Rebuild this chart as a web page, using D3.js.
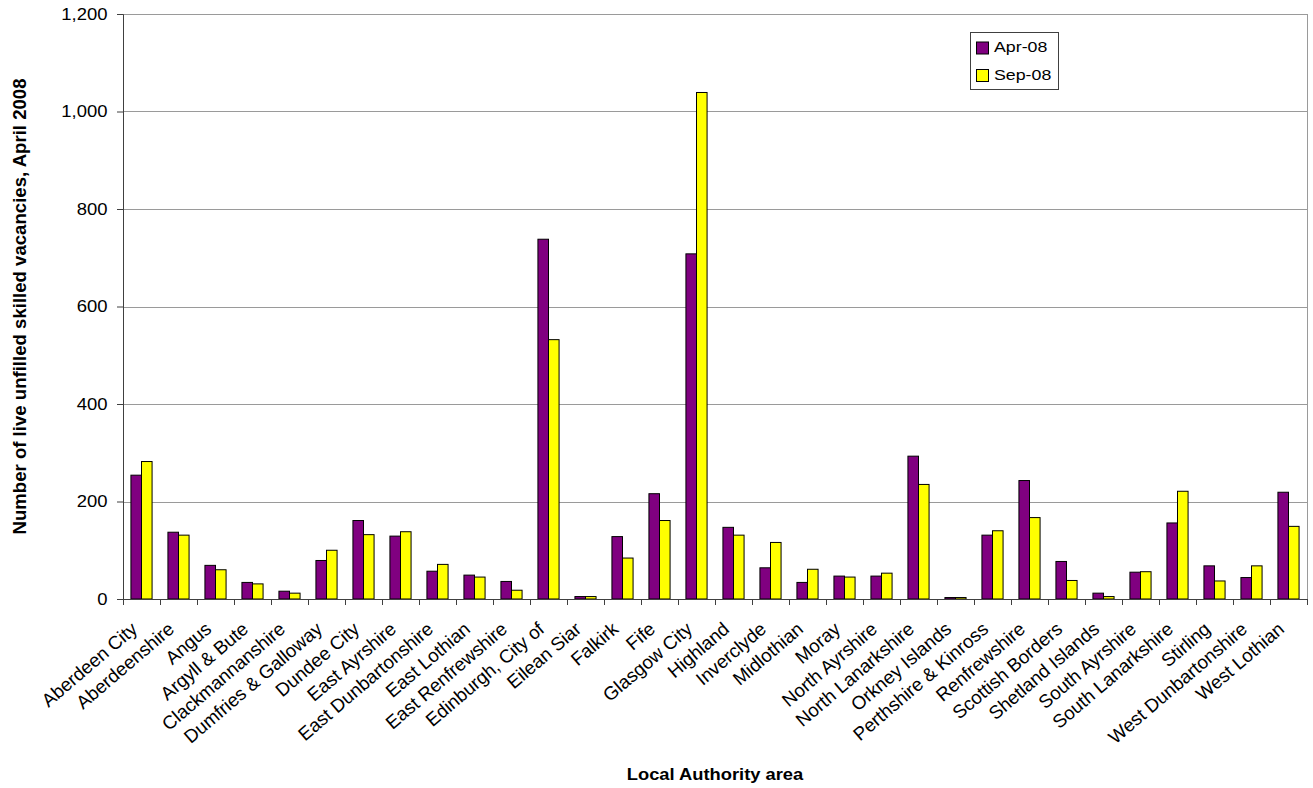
<!DOCTYPE html>
<html>
<head>
<meta charset="utf-8">
<script src="https://cdn.jsdelivr.net/npm/d3@7"></script>
<style>
  html, body { margin: 0; padding: 0; background: #fff; }
  svg { display: block; font-family: Arial, "Liberation Sans", sans-serif; }
</style>
</head>
<body>
<svg id="chart" width="1313" height="788"></svg>
<script>
const categories = [
  "Aberdeen City", "Aberdeenshire", "Angus", "Argyll & Bute", "Clackmannanshire",
  "Dumfries & Galloway", "Dundee City", "East Ayrshire", "East Dunbartonshire",
  "East Lothian", "East Renfrewshire", "Edinburgh, City of", "Eilean Siar", "Falkirk",
  "Fife", "Glasgow City", "Highland", "Inverclyde", "Midlothian", "Moray",
  "North Ayrshire", "North Lanarkshire", "Orkney Islands", "Perthshire & Kinross",
  "Renfrewshire", "Scottish Borders", "Shetland Islands", "South Ayrshire",
  "South Lanarkshire", "Stirling", "West Dunbartonshire", "West Lothian"
];
const seriesNames = ["Apr-08", "Sep-08"];
const apr08 = [254, 137, 69, 34, 16, 79, 161, 129, 57, 49, 36, 738, 5, 128, 216, 708,
               147, 64, 34, 47, 47, 293, 3, 131, 243, 77, 12, 55, 156, 68, 44, 219];
const sep08 = [282, 131, 60, 31, 12, 100, 132, 138, 71, 45, 18, 532, 5, 84, 161, 1039,
               131, 116, 61, 45, 53, 235, 3, 140, 167, 38, 5, 56, 221, 37, 68, 149];
const yTicks = [0, 200, 400, 600, 800, 1000, 1200];
const colors = ["#800080", "#FFFF00"];
const yTitle = "Number of live unfilled skilled vacancies, April 2008";
const xTitle = "Local Authority area";

const svg = d3.select("#chart");
const m = { left: 123, top: 14, right: 6, bottom: 189 };
const W = 1313, H = 788;
const pw = W - m.left - m.right, ph = H - m.top - m.bottom;
const g = svg.append("g").attr("transform", `translate(${m.left},${m.top})`);
const stretch = 1.17; // reference text is rendered slightly wide

const x = d3.scaleBand().domain(categories).range([0, pw]).paddingInner(0).paddingOuter(0);
const gapRatio = 1.5;
const barW = x.bandwidth() / (2 + gapRatio);
const x1 = d3.scaleBand().domain(seriesNames)
  .range([barW * gapRatio / 2, barW * gapRatio / 2 + 2 * barW]).padding(0);
const y = d3.scaleLinear().domain([0, 1200]).range([ph, 0]);

// gridlines
g.append("g").selectAll("line").data(yTicks.filter(d => d > 0)).join("line")
  .attr("x1", 0).attr("x2", pw)
  .attr("y1", d => Math.round(y(d)) + 0.5).attr("y2", d => Math.round(y(d)) + 0.5)
  .attr("stroke", "#9a9a9a").attr("stroke-width", 1);
// right border
g.append("line").attr("x1", pw + 0.5).attr("x2", pw + 0.5).attr("y1", 0).attr("y2", ph)
  .attr("stroke", "#9a9a9a");

// bars
const data = categories.map((c, i) => ({ c, vals: [apr08[i], sep08[i]] }));
const grp = g.append("g").selectAll("g").data(data).join("g")
  .attr("transform", d => `translate(${x(d.c)},0)`);
grp.selectAll("rect").data(d => d.vals.map((v, k) => ({ k, v }))).join("rect")
  .attr("x", d => x1(seriesNames[d.k]))
  .attr("width", x1.bandwidth())
  .attr("y", d => y(d.v))
  .attr("height", d => ph - y(d.v))
  .attr("fill", d => colors[d.k])
  .attr("stroke", "#000").attr("stroke-width", 1);

// y axis
const yAxis = g.append("g")
  .call(d3.axisLeft(y).tickValues(yTicks).tickFormat(d3.format(",")).tickSize(6).tickPadding(9));
yAxis.select(".domain").attr("stroke", "#404040");
yAxis.selectAll(".tick line").attr("stroke", "#404040");
yAxis.selectAll("text")
  .attr("x", 0)
  .attr("transform", `translate(-15.5,0) scale(${stretch},1)`)
  .attr("font-size", 15.8).attr("fill", "#000")
  .attr("font-family", "Arial, 'Liberation Sans', sans-serif");

// x axis (ticks at category boundaries)
const xAxisG = g.append("g").attr("transform", `translate(0,${ph})`);
xAxisG.append("line").attr("x1", 0).attr("x2", pw).attr("y1", 0.5).attr("y2", 0.5)
  .attr("stroke", "#404040");
const bounds = categories.map(c => x(c)).concat([pw]);
xAxisG.selectAll("line.tk").data(bounds).join("line").attr("class", "tk")
  .attr("x1", d => Math.round(d) + 0.5).attr("x2", d => Math.round(d) + 0.5)
  .attr("y1", 0).attr("y2", 6).attr("stroke", "#404040");
xAxisG.selectAll("text").data(categories).join("text")
  .attr("transform", d => `translate(${x(d) + x.bandwidth() / 2 - 3},32) rotate(-40.5)`)
  .attr("text-anchor", "end")
  .attr("font-size", 18.7)
  .attr("fill", "#000")
  .text(d => d);

// axis titles
svg.append("text")
  .attr("transform", `translate(26,${m.top + ph / 2}) rotate(-90)`)
  .attr("text-anchor", "middle").attr("font-weight", "bold").attr("font-size", 18.6)
  .text(yTitle);
svg.append("text")
  .attr("transform", `translate(${m.left + pw / 2},780) scale(1.06,1)`)
  .attr("text-anchor", "middle").attr("font-weight", "bold").attr("font-size", 17.3)
  .text(xTitle);

// legend
const lg = svg.append("g").attr("transform", "translate(970.5,32.5)");
lg.append("rect").attr("width", 88).attr("height", 57).attr("fill", "#fff")
  .attr("stroke", "#404040").attr("stroke-width", 1);
seriesNames.forEach((s, i) => {
  lg.append("rect").attr("x", 6).attr("y", 9.5 + i * 27.5).attr("width", 12).attr("height", 12)
    .attr("fill", colors[i]).attr("stroke", "#000");
  lg.append("text")
    .attr("transform", `translate(23.5,${19.3 + i * 28.3}) scale(${stretch},1)`)
    .attr("font-size", 15.2)
    .attr("fill", "#000").text(s);
});
</script>
</body>
</html>
